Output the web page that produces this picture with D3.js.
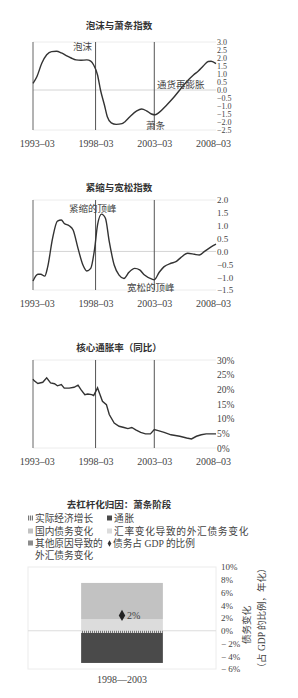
<!DOCTYPE html>
<html>
<head>
<meta charset="utf-8">
<style>
    body, html { margin: 0; padding: 0; background: #fff; }
    svg { display: block; }
    .tick text { fill: #444; }
    .ttl { font-family: "Noto Sans CJK SC", sans-serif; font-weight: bold; fill: #333; }
    .note { font-family: "Liberation Serif", "Noto Sans CJK SC", serif; fill: #444; }
</style>
</head>
<body>
<svg width="298" height="698"></svg>
<script src="https://cdnjs.cloudflare.com/ajax/libs/d3/7.8.5/d3.min.js"></script>
<script>
// ---- data ----
var bubbleDates = ["1992-11","1993-03","1993-08","1994-01","1994-06","1994-11","1995-04","1995-09","1996-02","1996-07","1996-12","1997-06","1997-10","1998-01","1998-05","1998-08","1998-12","1999-03","1999-07","1999-12","2000-06","2000-09","2001-02","2001-09","2002-02","2002-07","2002-12","2003-04","2003-08","2004-03","2004-10","2005-05","2005-12","2006-07","2006-12","2007-05","2007-10","2008-01","2008-06"];
var bubbleValues = [0.42,0.83,1.67,2.2,2.4,2.42,2.32,2.15,2.0,1.88,1.86,1.88,1.8,1.56,0.94,0.0,-0.94,-1.67,-2.05,-2.15,-2.1,-1.98,-1.67,-1.31,-1.19,-1.3,-1.5,-1.55,-1.4,-0.98,-0.52,0.0,0.52,0.94,1.19,1.5,1.78,1.8,1.65];

var tightDates = ["1992-11","1993-04","1993-07","1993-11","1994-02","1994-07","1994-12","1995-04","1995-07","1995-12","1996-04","1996-09","1997-02","1997-06","1997-10","1998-02","1998-05","1998-09","1999-01","1999-05","1999-10","2000-03","2000-08","2001-01","2001-07","2001-12","2002-05","2002-12","2003-03","2003-08","2004-01","2004-08","2005-01","2005-06","2006-01","2006-08","2007-01","2007-06","2008-01","2008-06"];
var tightValues = [-1.15,-0.89,-0.89,-0.96,-0.6,0.5,1.18,1.22,1.09,1.0,0.83,0.12,-0.53,-0.76,-0.66,0.12,1.03,1.45,1.29,0.38,-0.53,-0.92,-1.05,-0.81,-0.66,-0.72,-0.92,-1.07,-1.1,-0.81,-0.59,-0.46,-0.4,-0.24,-0.07,-0.11,-0.14,-0.01,0.18,0.28];

var coreDates = ["1992-11","1992-12","1993-04","1993-09","1994-01","1994-05","1994-09","1994-12","1995-04","1995-07","1995-12","1996-05","1996-09","1996-12","1997-04","1997-07","1997-11","1998-01","1998-05","1998-07","1998-10","1999-02","1999-05","1999-10","2000-03","2000-08","2000-12","2001-04","2001-08","2002-01","2002-06","2002-11","2003-03","2003-07","2004-01","2004-08","2005-05","2005-12","2006-05","2006-10","2007-03","2007-08","2008-06"];
var coreValues = [23.5,23.0,22.0,22.4,23.9,22.2,21.9,21.2,21.6,20.4,20.4,20.7,21.4,19.9,18.2,18.4,18.2,17.9,20.5,18.7,15.9,14.8,11.4,8.5,7.4,7.0,6.6,7.0,6.2,5.3,4.8,4.8,6.3,5.9,5.3,4.5,4.0,3.4,3.1,4.0,4.5,4.8,4.8];

var xTickDates = ["1993-03","1998-03","2003-03","2008-03"];
var markDates = ["1998-03","2003-03"];

var bubbleTicks = [3.0,2.5,2.0,1.5,1.0,0.5,0.0,-0.5,-1.0,-1.5,-2.0,-2.5];
var tightTicks = [2.0,1.5,1.0,0.5,0.0,-0.5,-1.0,-1.5];
var coreTicks = [0,5,10,15,20,25,30];

var barPeriod = ["1998—2003"];
var barSeries = ["实际经济增长","通胀","国内债务变化","汇率变化导致的外汇债务变化","其他原因导致的外汇债务变化"];
var barValues = [-0.35, -4.7, 5.7, 1.8, 0.0];
var debtRatio = [2.4];
var barTicks = [10,8,6,4,2,0,-2,-4,-6];

var serif = "Liberation Serif, DejaVu Serif, serif";
var parse = d3.timeParse("%Y-%m");
var svg = d3.select("svg");

var x = d3.scaleTime()
    .domain([parse("1992-11"), parse("2008-06")])
    .range([33, 216]);

function lineChart(top, bottom, ydom, ticks, dates, values, fmt, curve, title, titleY, tickFont) {
    var y = d3.scaleLinear().domain(ydom).range([bottom, top]);
    var g = svg.append("g");

    g.append("text").attr("class", "ttl").attr("x", 119).attr("y", titleY)
        .attr("text-anchor", "middle").attr("font-size", 9.5).text(title);

    // faint frame
    g.append("line").attr("x1", 33).attr("x2", 216).attr("y1", top).attr("y2", top)
        .attr("stroke", "#ececec");
    g.append("line").attr("x1", 33).attr("x2", 216).attr("y1", bottom).attr("y2", bottom)
        .attr("stroke", "#ececec");
    if (ydom[0] < 0) {
        g.append("line").attr("x1", 33).attr("x2", 216).attr("y1", y(0)).attr("y2", y(0))
            .attr("stroke", "#d4d4d4");
    }
    g.append("line").attr("x1", 33).attr("x2", 33).attr("y1", top).attr("y2", bottom)
        .attr("stroke", "#666");
    markDates.forEach(function (d) {
        g.append("line").attr("x1", x(parse(d))).attr("x2", x(parse(d)))
            .attr("y1", top).attr("y2", bottom).attr("stroke", "#555");
    });

    var line = d3.line()
        .x(function (d, i) { return x(parse(dates[i])); })
        .y(function (d) { return y(d); })
        .curve(curve);
    g.append("path").datum(values).attr("d", line)
        .attr("fill", "none").attr("stroke", "#333").attr("stroke-width", 1.4);

    var ya = g.append("g").attr("transform", "translate(216,0)")
        .call(d3.axisRight(y).tickValues(ticks).tickSize(0).tickPadding(1).tickFormat(fmt))
        .attr("font-family", serif).attr("font-size", tickFont);
    ya.select(".domain").remove();

    var xa = g.append("g").attr("transform", "translate(0," + (bottom + 6) + ")")
        .call(d3.axisBottom(x).tickValues(xTickDates.map(parse)).tickSize(0).tickPadding(4)
            .tickFormat(d3.timeFormat("%Y–%m")))
        .attr("font-family", serif).attr("font-size", 10);
    xa.select(".domain").remove();
    return g;
}

function minusFmt(f) {
    return function (d) { return f(d).replace("-", "−"); };
}

var g1 = lineChart(42, 130, [-2.5, 3.0], bubbleTicks, bubbleDates, bubbleValues,
    minusFmt(d3.format(".1f")), d3.curveMonotoneX, "泡沫与萧条指数", 29, 8);
g1.append("text").attr("class", "note").attr("x", 73).attr("y", 50).attr("font-size", 9.5).text("泡沫");
g1.append("text").attr("class", "note").attr("x", 157).attr("y", 88).attr("font-size", 9.5).text("通货再膨胀");
g1.append("text").attr("class", "note").attr("x", 146).attr("y", 129).attr("font-size", 9.5).text("萧条");

var g2 = lineChart(200, 290, [-1.5, 2.0], tightTicks, tightDates, tightValues,
    minusFmt(d3.format(".1f")), d3.curveMonotoneX, "紧缩与宽松指数", 191, 9);
g2.append("text").attr("class", "note").attr("x", 69).attr("y", 212).attr("font-size", 9.5).text("紧缩的顶峰");
g2.append("text").attr("class", "note").attr("x", 127).attr("y", 291).attr("font-size", 9.5).text("宽松的顶峰");

lineChart(360, 448, [0, 30], coreTicks, coreDates, coreValues,
    function (d) { return d + "%"; }, d3.curveLinear, "核心通胀率（同比）", 351, 9.5);

// ---- deleveraging bar ----
var colors = ["url(#dots)", "#4a4a4a", "#c2c2c2", "#dcdcdc", "#8c8c8c"];
var defs = svg.append("defs");
var pat = defs.append("pattern").attr("id", "dots").attr("patternUnits", "userSpaceOnUse")
    .attr("width", 2).attr("height", 2);
pat.append("rect").attr("width", 2).attr("height", 2).attr("fill", "#e4e4e4");
pat.append("rect").attr("width", 1).attr("height", 2).attr("fill", "#777");

var g4 = svg.append("g");
g4.append("text").attr("class", "ttl").attr("x", 119).attr("y", 508)
    .attr("text-anchor", "middle").attr("font-size", 9.5).text("去杠杆化归因：萧条阶段");

// legend
var legendPos = [[31, 522], [110, 522], [31, 535], [110, 535], [31, 547]];
barSeries.forEach(function (s, i) {
    var p = legendPos[i];
    g4.append("rect").attr("x", p[0] - 3).attr("y", p[1] - 6.5).attr("width", 5).attr("height", 5)
        .attr("fill", colors[i]);
    var t = g4.append("text").attr("class", "note").attr("x", p[0] + 4).attr("y", p[1])
        .attr("font-size", 9.7).attr("letter-spacing", p[0] > 100 ? 0.7 : 0);
    if (i === 4) {
        t.text("其他原因导致的");
        g4.append("text").attr("class", "note").attr("x", p[0] + 4).attr("y", 559)
            .attr("font-size", 9.7).text("外汇债务变化");
    } else {
        t.text(s);
    }
});
g4.append("path").attr("d", d3.symbol(d3.symbolDiamond, 12)())
    .attr("transform", "translate(109.5,543.5)").attr("fill", "#333");
g4.append("text").attr("class", "note").attr("x", 113).attr("y", 547)
    .attr("font-size", 9.7).text("债务占 GDP 的比例");

var bx = d3.scaleBand().domain(barPeriod).range([28, 216]).paddingInner(0).paddingOuter(0.65);
var by = d3.scaleLinear().domain([-6, 10]).range([669, 567]);

g4.append("rect").attr("x", 28).attr("y", 567).attr("width", 188).attr("height", 102)
    .attr("fill", "none").attr("stroke", "#ececec");
g4.append("line").attr("x1", 28).attr("x2", 216).attr("y1", by(0)).attr("y2", by(0))
    .attr("stroke", "#dcdcdc");

// stack: positives up from zero, negatives down from zero
var order = [3, 2, 4, 0, 1];
var posBase = 0, negBase = 0;
order.forEach(function (i) {
    var v = barValues[i];
    if (v === 0) return;
    var y0, y1;
    if (v > 0) { y0 = posBase; y1 = posBase + v; posBase = y1; }
    else { y0 = negBase + v; y1 = negBase; negBase = y0; }
    g4.append("rect").attr("x", bx(barPeriod[0])).attr("width", bx.bandwidth())
        .attr("y", by(y1)).attr("height", by(y0) - by(y1)).attr("fill", colors[i]);
});

var cx = bx(barPeriod[0]) + bx.bandwidth() / 2;
g4.append("path").attr("d", d3.symbol(d3.symbolDiamond, 36)())
    .attr("transform", "translate(" + cx + "," + by(debtRatio[0]) + ")").attr("fill", "#222");
g4.append("text").attr("class", "note").attr("x", cx + 5).attr("y", by(debtRatio[0]) + 3.5)
    .attr("font-size", 10).attr("fill", "#444").text("2%");

var ya4 = g4.append("g").attr("transform", "translate(220,0)")
    .call(d3.axisRight(by).tickValues(barTicks).tickSize(0).tickPadding(1)
        .tickFormat(function (d) { return d < 0 ? "− " + (-d) + "%" : d + "%"; }))
    .attr("font-family", serif).attr("font-size", 9);
ya4.select(".domain").remove();

var xa4 = g4.append("g").attr("transform", "translate(0,673)")
    .call(d3.axisBottom(bx).tickSize(0).tickPadding(3))
    .attr("font-family", serif).attr("font-size", 10);
xa4.select(".domain").remove();

g4.append("text").attr("class", "note").attr("transform", "translate(250,625) rotate(-90)")
    .attr("text-anchor", "middle").attr("font-size", 9.5).text("债务变化");
g4.append("text").attr("class", "note").attr("transform", "translate(265,618) rotate(-90)")
    .attr("text-anchor", "middle").attr("font-size", 9.5).text("（占 GDP 的比例，年化）");
</script>
</body>
</html>
